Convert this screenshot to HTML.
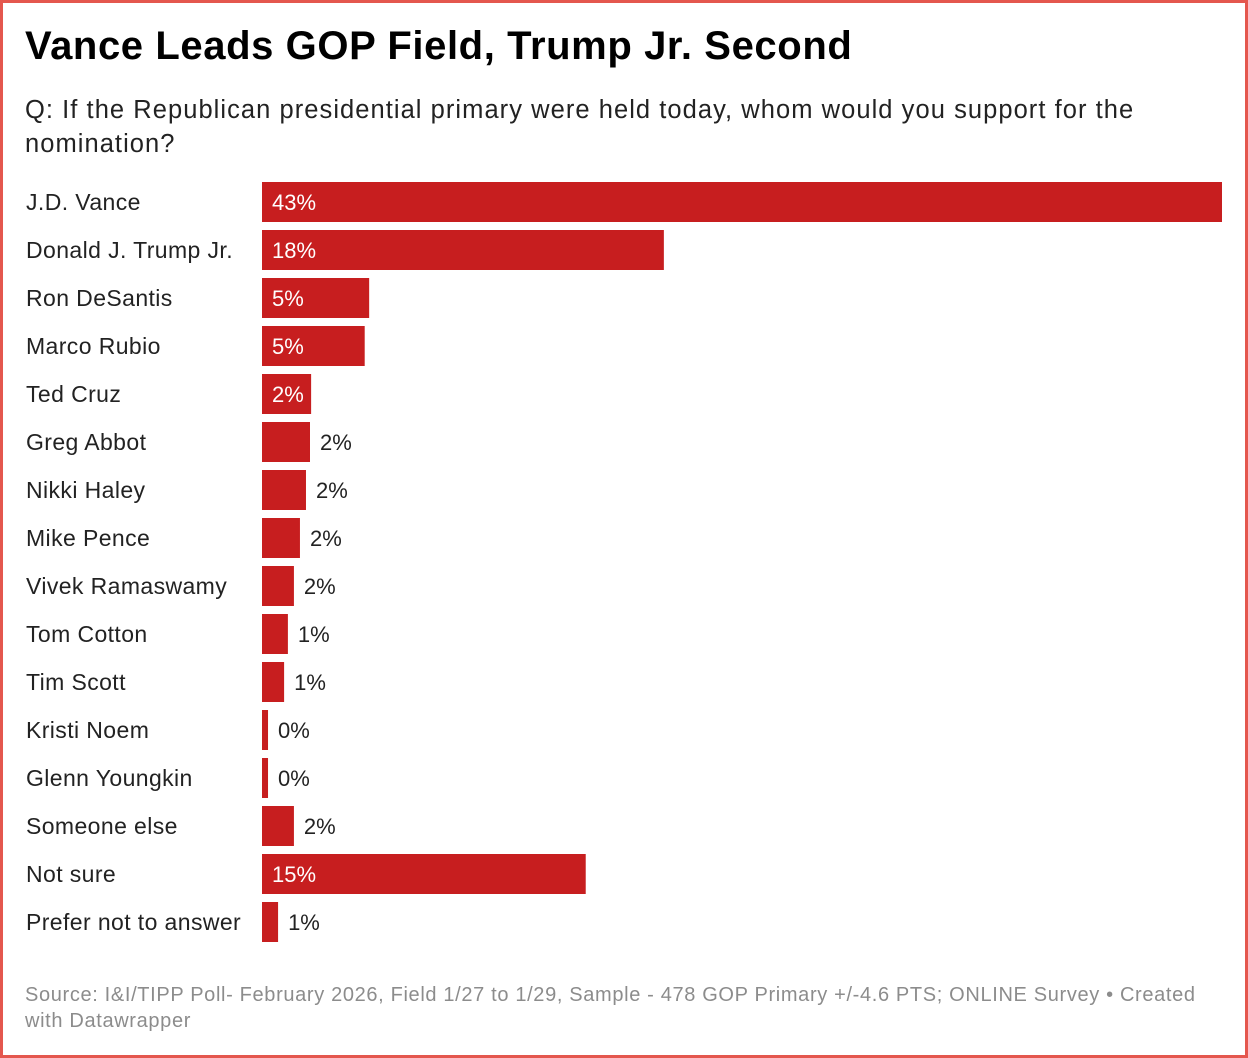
<!DOCTYPE html>
<html><head><meta charset="utf-8">
<style>
html,body{margin:0;padding:0;background:#fff;}
body{width:1248px;height:1058px;position:relative;overflow:hidden;font-family:"Liberation Sans",Arial,sans-serif;}
.frame{position:absolute;left:0;top:0;width:1242px;height:1052px;border:3px solid #e4574e;}
h1{position:absolute;left:25px;top:24px;margin:0;font-size:40px;font-weight:bold;color:#000;letter-spacing:0.6px;}
.sub{position:absolute;left:25px;top:93px;width:1210px;margin:0;font-size:25.5px;line-height:34px;color:#222;letter-spacing:1.05px;white-space:nowrap;}
.foot{position:absolute;left:25px;top:982px;width:1210px;font-size:20px;line-height:26px;color:#8c8c8c;letter-spacing:0.65px;white-space:nowrap;}
svg{position:absolute;left:0;top:0;}
</style></head>
<body>
<div class="frame"></div>
<h1>Vance Leads GOP Field, Trump Jr. Second</h1>
<p class="sub">Q: If the Republican presidential primary were held today, whom would you support for the<br>nomination?</p>
<svg id="chart" width="1248" height="1058"></svg>
<div class="foot">Source: I&amp;I/TIPP Poll- February 2026, Field 1/27 to 1/29, Sample - 478 GOP Primary +/-4.6 PTS; ONLINE Survey • Created<br>with Datawrapper</div>
<script>
const categories = ["J.D. Vance","Donald J. Trump Jr.","Ron DeSantis","Marco Rubio","Ted Cruz","Greg Abbot","Nikki Haley","Mike Pence","Vivek Ramaswamy","Tom Cotton","Tim Scott","Kristi Noem","Glenn Youngkin","Someone else","Not sure","Prefer not to answer"];
const values = [43,18,4.8,4.6,2.2,2.15,1.97,1.7,1.43,1.16,0.99,0.27,0.27,1.43,14.5,0.72];
const valueLabels = ["43%","18%","5%","5%","2%","2%","2%","2%","2%","1%","1%","0%","0%","2%","15%","1%"];

const svg = document.getElementById('chart');
const NS = 'http://www.w3.org/2000/svg';
const x0 = 262, xW = 960, maxV = 43;
const y0 = 182, step = 48, barH = 40;
const xScale = v => v / maxV * xW;
const yScale = i => y0 + i * step;

categories.forEach((c, i) => {
  const y = yScale(i);
  const w = xScale(values[i]);
  const lab = document.createElementNS(NS, 'text');
  
  
  lab.setAttribute('x', 26); lab.setAttribute('y', y + barH/2 + 8);
  lab.setAttribute('font-size', '23'); lab.setAttribute('fill', '#222');
  lab.setAttribute('letter-spacing', '0.4');
  lab.setAttribute('font-family', 'Liberation Sans, Arial, sans-serif');
  lab.textContent = c;
  svg.appendChild(lab);

  const r = document.createElementNS(NS, 'rect');
  
  
  r.setAttribute('x', x0); r.setAttribute('y', y);
  r.setAttribute('width', w); r.setAttribute('height', barH);
  r.setAttribute('fill', '#c71e1f');
  svg.appendChild(r);

  const inside = w >= 49;
  const t = document.createElementNS(NS, 'text');
  
  
  t.setAttribute('x', inside ? x0 + 10 : x0 + w + 10);
  t.setAttribute('y', y + barH/2 + 8);
  t.setAttribute('font-size', '22');
  t.setAttribute('fill', inside ? '#fff' : '#222');
  t.setAttribute('font-family', 'Liberation Sans, Arial, sans-serif');
  t.textContent = valueLabels[i];
  svg.appendChild(t);
});
</script>
</body></html>
